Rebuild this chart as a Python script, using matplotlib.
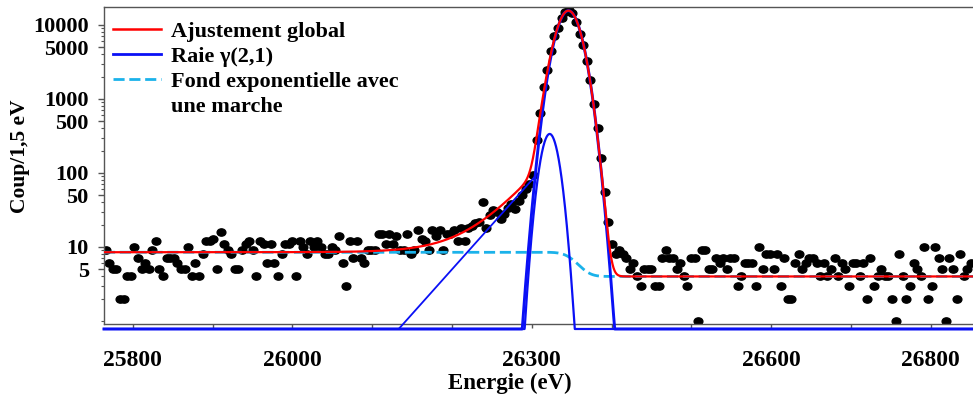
import math
import numpy as np
import matplotlib
matplotlib.use("Agg")
import matplotlib.pyplot as plt
from matplotlib.ticker import FixedLocator, FuncFormatter, NullFormatter
from matplotlib.lines import Line2D
from matplotlib.path import Path
from matplotlib.transforms import Affine2D

# ---------------- data ----------------
energy_start = 25766.0      # eV, first channel shown
energy_step = 4.5           # eV between plotted channels

counts_low = [9, 6, 5, 5, 2, 2, 4, 4, 10, 7, 5, 6, 5, 9, 12, 5, 4, 7, 7, 7, 6, 5, 5, 10, 4,
              6, 4, 8, 12, 12, 13, 5, 16, 11, 9, 8, 5, 5, 9, 11, 12, 9, 4, 12, 11, 6, 11, 6,
              4, 8, 11, 11, 12, 4, 12, 10, 8, 12, 10, 12, 10]
counts_tail = [8, 8, 10, 9, 14, 6, 3, 12, 7, 12, 7, 6, 9, 9, 9, 15, 15, 11, 15, 11, 14, 9, 9,
               15, 8, 9, 17, 13, 12, 9, 17, 14, 17, 9, 15, 15, 17, 12, 18, 12, 18, 19, 21, 22,
               40, 18, 27, 32, 30, 24, 28, 34, 38, 33, 42, 51, 60, 70, 94]
counts_peak = [280, 640, 1450, 2500, 4500, 7000, 9200, 12500, 14800, 15800, 14300, 11000,
               7600, 5300, 3300, 1800, 850, 400, 160, 55, 22, 11]
counts_high = [8, 9, 8, 7, 5, 6, 4, 3, 5, 5, 5, 3, 3, 7, 9, 7, 7, 5, 6, 4, 3, 7, 7, 1, 9, 9,
               5, 5, 7, 6, 7, 5, 7, 7, 3, 4, 6, 6, 6, 3, 10, 5, 8, 8, 5, 8, 3, 7, 2]
counts_end = [2, 6, 8, 5, 6, 7, 7, 6, 4, 6, 4, 5, 7, 4, 6, 5, 3, 6, 6, 4, 6, 2, 7, 3, 4, 5, 4,
              4, 2, 1, 8, 4, 2, 3, 6, 5, 4, 10, 2, 3, 10, 7, 5, 1, 7, 5, 2, 8, 4, 5, 6]

# fit parameters
peak_center, peak_amp, peak_sigma = 26346.0, 15600.0, 13.0       # main line
sat_center, sat_amp, sat_sigma = 26322.5, 337.0, 9.0             # secondary component
tail_ref_energy, tail_ref_value, tail_decay = 26300.0, 80.0, 36.0  # exponential tail
tail_cut_center, tail_cut_width = 26320.0, 8.0
bkg_left, bkg_right = 8.5, 4.0                                   # background with step
step_center, step_width = 26355.0, 13.0
floor_value = 0.78

x_ticks = [25800, 25900, 26000, 26100, 26200, 26300, 26400, 26500, 26600, 26700, 26800]
x_labeled = [25800, 26000, 26300, 26600, 26800]
y_ticks = [5, 10, 50, 100, 500, 1000, 5000, 10000]

legend_labels = ["Ajustement global", "Raie γ(2,1)", "Fond exponentielle avec", "une marche"]
x_title = "Energie (eV)"
y_title = "Coup/1,5 eV"

# ---------------- figure ----------------
FONT = "Liberation Serif"
plt.rcParams["font.family"] = [FONT, "DejaVu Serif"]
plt.rcParams["font.weight"] = "bold"

fig = plt.figure(figsize=(9.73, 4.01), dpi=100)
ax = fig.add_axes([104 / 973, 1 - 324 / 401, 1 - 104 / 973, (324 - 7) / 401])

xmin, xmax = 25764.0, 26853.0
ax.set_xlim(xmin, xmax)
ax.set_yscale("log")
ax.set_ylim(0.911, 17500)

counts = np.array(counts_low + counts_tail + counts_peak + counts_high + counts_end, float)
energies = energy_start + energy_step * np.arange(len(counts))

erfc = np.vectorize(math.erfc)
E = np.arange(xmin, xmax + 0.25, 0.25)
main = peak_amp * np.exp(-(E - peak_center) ** 2 / (2 * peak_sigma ** 2))
sat = sat_amp * np.exp(-(E - sat_center) ** 2 / (2 * sat_sigma ** 2))
tail = tail_ref_value * np.exp((E - tail_ref_energy) / tail_decay)
tail_cut = tail * 0.5 * erfc((E - tail_cut_center) / (math.sqrt(2) * tail_cut_width))
bkg = bkg_right + (bkg_left - bkg_right) * 0.5 * erfc((E - step_center) / (math.sqrt(2) * step_width))
total = main + sat + tail_cut + bkg

# where the tail line meets the main line
cross = np.argmax((main >= tail) & (E > 26200))
tail_line = np.where(np.arange(len(E)) <= cross, np.maximum(tail, floor_value), np.nan)

ell = Path.unit_circle().transformed(Affine2D().scale(1.2, 1.0))
ax.plot(energies, counts, ls="none", marker=ell, ms=6.3, color="black", zorder=2)

blue = "#0A10F5"
cyan = "#1BB2EA"
ax.plot(E, bkg, color=cyan, lw=2.0, dashes=(4, 1.7), zorder=3)
ax.plot(E, np.maximum(main, floor_value), color=blue, lw=2.1, zorder=4, clip_on=False)
ax.plot(E, np.maximum(sat, floor_value), color=blue, lw=1.6, zorder=4, clip_on=False)
ax.plot(E, tail_line, color=blue, lw=1.3, zorder=4, clip_on=False)
ax.plot(E, total, color="#FF0000", lw=1.6, zorder=5)

# axes styling
for side in ("left", "bottom", "top"):
    ax.spines[side].set_color("#555555")
    ax.spines[side].set_linewidth(1.0)
ax.spines["right"].set_visible(False)

ax.yaxis.set_major_locator(FixedLocator(y_ticks))
ax.yaxis.set_major_formatter(FuncFormatter(lambda v, p: f"{int(round(v))}"))
minor_y = [m * 10 ** d for d in range(0, 5) for m in range(1, 10)
           if m * 10 ** d not in y_ticks and 0.9 < m * 10 ** d < 17500]
ax.yaxis.set_minor_locator(FixedLocator(minor_y))
ax.yaxis.set_minor_formatter(NullFormatter())

ax.xaxis.set_major_locator(FixedLocator(x_ticks))
ax.xaxis.set_major_formatter(FuncFormatter(lambda v, p: f"{int(round(v))}" if int(round(v)) in x_labeled else ""))

ax.tick_params(axis="y", which="major", direction="out", length=4, width=1, color="#555555",
               labelsize=16, pad=7)
ax.tick_params(axis="y", which="minor", direction="out", length=2.5, width=0.8, color="#555555")
ax.tick_params(axis="x", which="major", direction="out", length=3, width=1, color="#555555",
               labelsize=17, pad=16)
for lab in ax.get_xticklabels() + ax.get_yticklabels():
    lab.set_fontweight("bold")

ax.set_xlabel(x_title, fontsize=16.5, fontweight="bold")
ax.xaxis.set_label_coords(0.467, -0.155)
ax.set_ylabel(y_title, fontsize=15.5, fontweight="bold")
ax.yaxis.set_label_coords(-0.085, 0.53)

handles = [Line2D([], [], color="#FF0000", lw=1.8),
           Line2D([], [], color=blue, lw=2.0),
           Line2D([], [], color=cyan, lw=2.0, dashes=(4, 1.7)),
           Line2D([], [], color="none")]
leg = ax.legend(handles, legend_labels, loc="upper left", bbox_to_anchor=(0.0104, 0.955),
                frameon=False, borderaxespad=0, borderpad=0, handlelength=2.15,
                handletextpad=0.48, labelspacing=0.2,
                prop={"family": FONT, "weight": "bold", "size": 16})

fig.savefig("out.png", dpi=100)
